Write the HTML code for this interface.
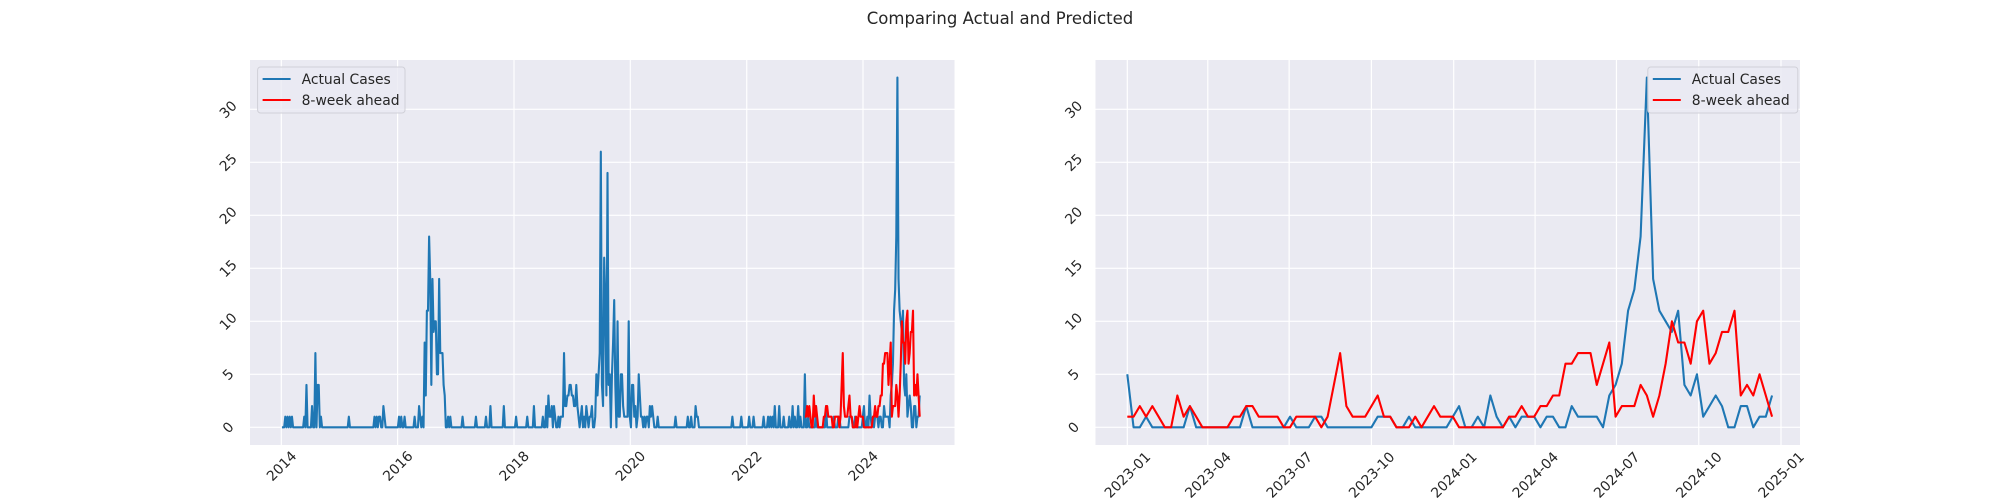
<!DOCTYPE html>
<html><head><meta charset="utf-8">
<style>
html,body{margin:0;padding:0;background:#fff;}
svg{display:block;font-family:"DejaVu Sans","Liberation Sans",sans-serif;}
</style></head>
<body>
<svg id="fig" width="2000" height="500" viewBox="0 0 2000 500">
<text x="1000" y="24" text-anchor="middle" font-size="16.5" fill="#262626">Comparing Actual and Predicted</text>
</svg>
<script>
// ---- data ----
const yTicks = [0,5,10,15,20,25,30];
const leftXTickLabels = ["2014","2016","2018","2020","2022","2024"];
const rightXTickLabels = ["2023-01","2023-04","2023-07","2023-10","2024-01","2024-04","2024-07","2024-10","2025-01"];
// weekly data from 2014-01-05, nonzero weeks before 2023
const histWeeks = [3,5,7,9,20,22,27,30,32,33,35,60,83,85,87,88,91,92,105,107,110,119,123,124,126,128,129,130,131,132,133,134,135,136,137,138,139,140,141,142,143,144,145,146,149,151,162,174,183,187,199,210,220,226,234,237,239,240,241,242,244,245,248,250,251,252,253,254,255,256,257,258,259,260,261,262,263,264,265,266,268,269,271,273,274,276,277,278,281,282,283,284,285,286,287,288,289,290,291,292,293,294,296,297,298,299,301,302,303,304,305,306,307,308,309,310,311,312,314,315,316,317,319,320,321,322,323,325,327,328,330,331,332,333,337,353,364,367,371,372,373,404,412,419,423,432,436,438,440,442,446,450,455,458,460,463,465];
const histValues = [1,1,1,1,1,4,2,7,4,4,1,1,1,1,1,1,2,1,1,1,1,1,2,1,1,8,3,11,11,18,14,4,14,9,10,10,5,5,14,7,7,7,4,3,1,1,1,1,1,2,2,1,1,2,1,2,3,1,1,2,2,1,1,1,1,1,7,2,2,3,3,4,4,3,3,2,2,4,2,1,1,2,1,2,1,1,1,2,1,5,3,5,7,26,4,2,16,12,3,24,4,5,5,8,12,4,10,1,1,5,5,2,1,1,1,1,10,1,4,4,1,2,1,5,3,1,1,1,1,1,2,1,2,1,1,1,1,1,2,1,1,1,1,1,1,1,1,1,1,2,2,1,1,2,1,2,1];
const histWeekCount = 469;
// weekly from 2023-01-01
const recentActual = [5,0,0,1,0,0,0,0,0,0,2,0,0,0,0,0,0,0,0,2,0,0,0,0,0,0,1,0,0,0,1,1,0,0,0,0,0,0,0,0,1,1,1,0,0,1,0,0,0,0,0,0,1,2,0,0,1,0,3,1,0,1,0,1,1,1,0,1,1,0,0,2,1,1,1,1,0,3,4,6,11,13,18,33,14,11,10,9,11,4,3,5,1,2,3,2,0,0,2,2,0,1,1,3];
const recentPred = [1,1,2,1,2,1,0,0,3,1,2,1,0,0,0,0,0,1,1,2,2,1,1,1,1,0,0,1,1,1,1,0,1,4,7,2,1,1,1,2,3,1,1,0,0,0,1,0,1,2,1,1,1,0,0,0,0,0,0,0,0,1,1,2,1,1,2,2,3,3,6,6,7,7,7,4,6,8,1,2,2,2,4,3,1,3,6,10,8,8,6,10,11,6,7,9,9,11,3,4,3,5,3,1];

const NS="http://www.w3.org/2000/svg";
const svg=document.getElementById('fig');
function mk(tag,attrs,parent){const e=document.createElementNS(NS,tag);for(const k in attrs)e.setAttribute(k,attrs[k]);(parent||svg).appendChild(e);return e;}
const DAY=86400000;
const T=(s)=>Date.parse(s+"T00:00:00Z");
const Y0=427.3, YU=10.6;
const yS=v=>Y0-v*YU;

function axes(x0,x1,name){
  const g=mk('g',{});
  
  
  const r=mk('rect',{x:x0,y:60,width:x1-x0,height:385,fill:'#EAEAF2'},g);
  
  
  yTicks.forEach(v=>{
    const l=mk('line',{x1:x0,x2:x1,y1:yS(v),y2:yS(v),stroke:'#fff','stroke-width':1.2},g);
    
    
    const cx=x0-22, cy=yS(v);
    const t=mk('text',{x:cx,y:cy+5,'text-anchor':'middle','font-size':13.9,fill:'#262626',transform:`rotate(-45 ${cx} ${cy})`},g);
    t.textContent=v;
    
    
  });
  return g;
}
function xTicks(g,labels,xs){
  labels.forEach((lab,i)=>{
    const x=xs[i];
    const l=mk('line',{x1:x,x2:x,y1:60,y2:445,stroke:'#fff','stroke-width':1.2},g);
    
    
    const w=lab.length*8.4;
    const cy=449+(w*0.707+14*0.707)/2;
    const t=mk('text',{x:x,y:cy+5,'text-anchor':'middle','font-size':13.9,fill:'#262626',transform:`rotate(-45 ${x} ${cy})`},g);
    t.textContent=lab;
    
    
  });
}
function line(g,pts,color,name){
  const p=mk('polyline',{points:pts.map(p=>p[0].toFixed(2)+','+p[1].toFixed(2)).join(' '),fill:'none',stroke:color,'stroke-width':2.1,'stroke-linejoin':'round'},g);
  
  
}
function legend(g,x,w,name){
  const b=mk('g',{},g);
  
  
  mk('rect',{x:x,y:67,width:w,height:46,rx:3,fill:'#EAEAF2','fill-opacity':0.8,stroke:'#d0d0d8'},b);
  [['Actual Cases','#1f77b4',79],['8-week ahead','red',100]].forEach(([lab,c,y])=>{
    const e=mk('g',{},b);
    
    
    mk('line',{x1:x+5,x2:x+33,y1:y,y2:y,stroke:c,'stroke-width':2.1},e);
    const t=mk('text',{x:x+44,y:y+5,'font-size':13.9,fill:'#262626'},e);
    t.textContent=lab;
  });
}

// series assembly
const actualAll=[];
for(let w=0;w<histWeekCount;w++)actualAll.push(0);
histWeeks.forEach((w,i)=>{actualAll[w]=histValues[i];});
recentActual.forEach(v=>actualAll.push(v));
const histStart=T("2014-01-05"), recStart=T("2023-01-01");

// LEFT chart
const lx0=250,lx1=954.5;
const lxS=t=>281.3+(t-T("2014-01-01"))/DAY*(581.7/3652);
const gl=axes(lx0,lx1,'left-chart');
xTicks(gl,leftXTickLabels,leftXTickLabels.map(y=>lxS(T(y+"-01-01"))));
line(gl,actualAll.map((v,i)=>[lxS(histStart+i*7*DAY),yS(v)]),'#1f77b4','left-actual-line');
line(gl,recentPred.map((v,i)=>[lxS(recStart+i*7*DAY),yS(v)]),'red','left-predicted-line');
legend(gl,257.6,147.4,'left-legend');

// RIGHT chart
const rx0=1095.5,rx1=1800;
const rxS=t=>1127.3+(t-T("2023-01-01"))/DAY*(653.7/731);
const gr=axes(rx0,rx1,'right-chart');
xTicks(gr,rightXTickLabels,rightXTickLabels.map(s=>rxS(T(s+"-01"))));
line(gr,recentActual.map((v,i)=>[rxS(recStart+i*7*DAY),yS(v)]),'#1f77b4','right-actual-line');
line(gr,recentPred.map((v,i)=>[rxS(recStart+i*7*DAY),yS(v)]),'red','right-predicted-line');
legend(gr,1647.8,150,'right-legend');
</script>
</body></html>
